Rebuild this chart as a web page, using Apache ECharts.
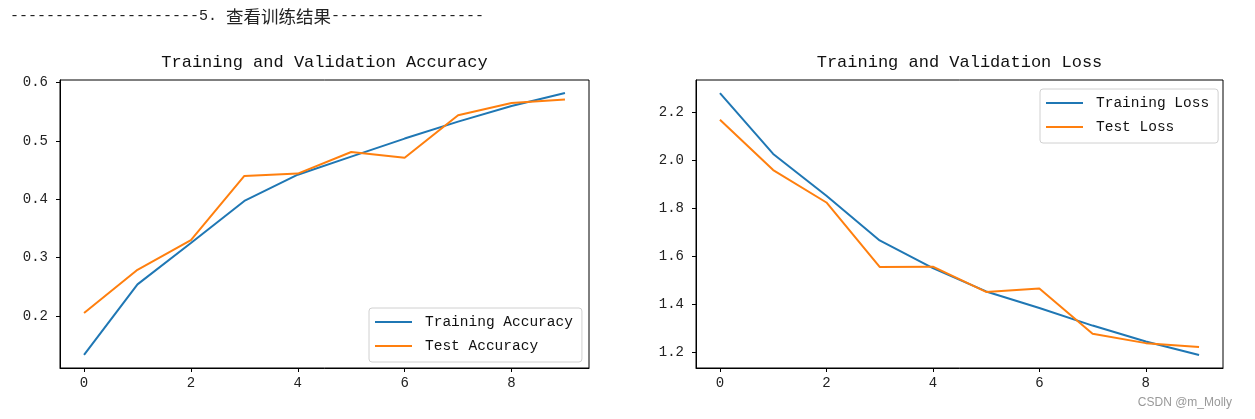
<!DOCTYPE html>
<html>
<head>
<meta charset="utf-8">
<script src="https://cdn.jsdelivr.net/npm/echarts@6/dist/echarts.min.js"></script>
<style>
html,body{margin:0;padding:0;background:#fff;}
#chart{width:1255px;height:419px;}
</style>
</head>
<body>
<div id="chart"></div>
<script>
var epochs = [0, 1, 2, 3, 4, 5, 6, 7, 8, 9];
var trainAcc = [0.133, 0.254, 0.325, 0.397, 0.442, 0.473, 0.504, 0.533, 0.560, 0.582];
var testAcc = [0.205, 0.279, 0.330, 0.440, 0.444, 0.481, 0.471, 0.544, 0.565, 0.571];
var trainLoss = [2.280, 2.027, 1.853, 1.667, 1.552, 1.455, 1.386, 1.313, 1.247, 1.191];
var testLoss = [2.169, 1.960, 1.825, 1.557, 1.558, 1.453, 1.467, 1.279, 1.240, 1.224];
var xTicks = [0, 2, 4, 6, 8];
var accTicks = [0.2, 0.3, 0.4, 0.5, 0.6];
var lossTicks = [1.2, 1.4, 1.6, 1.8, 2.0, 2.2];
var accTitle = 'Training and Validation Accuracy';
var lossTitle = 'Training and Validation Loss';
var accNames = ['Training Accuracy', 'Test Accuracy'];
var lossNames = ['Training Loss', 'Test Loss'];
var header = ['---------------------5. ', '查看训练结果', '-----------------'];
var watermark = 'CSDN @m_Molly';

var MONO = '"Liberation Mono", "DejaVu Sans Mono", monospace';
var BLUE = '#1f77b4', ORANGE = '#ff7f0e';

function pairs(xs, ys) { return xs.map(function (x, i) { return [x, ys[i]]; }); }
function range(a, b) {
  var lo = Math.min.apply(null, a.concat(b)), hi = Math.max.apply(null, a.concat(b));
  var m = (hi - lo) * 0.05;
  return [lo - m, hi + m];
}
var xm = (epochs[epochs.length - 1] - epochs[0]) * 0.05;
var accR = range(trainAcc, testAcc);
var lossR = range(trainLoss, testLoss);

function xAxis(gi) {
  return {
    type: 'value', gridIndex: gi, min: epochs[0] - xm, max: epochs[epochs.length - 1] + xm,
    splitLine: { show: false },
    axisLine: { show: true, onZero: false, lineStyle: { color: '#000', width: 1 } },
    axisTick: { show: true, length: 4, customValues: xTicks, lineStyle: { color: '#000' } },
    axisLabel: { customValues: xTicks, margin: 8, color: '#222', fontFamily: MONO, fontSize: 14,
      formatter: function (v) { return String(v); } }
  };
}
function yAxis(gi, r, ticks) {
  return {
    type: 'value', gridIndex: gi, min: r[0], max: r[1],
    splitLine: { show: false },
    axisLine: { show: true, onZero: false, lineStyle: { color: '#000', width: 1 } },
    axisTick: { show: true, length: 4, customValues: ticks, lineStyle: { color: '#000' } },
    axisLabel: { customValues: ticks, margin: 12, color: '#222', fontFamily: MONO, fontSize: 14,
      formatter: function (v) { return v.toFixed(1); } }
  };
}
function line(name, gi, ys, color) {
  return {
    type: 'line', name: name, xAxisIndex: gi, yAxisIndex: gi, data: pairs(epochs, ys),
    showSymbol: false, symbol: 'none', lineStyle: { color: color, width: 2 }, itemStyle: { color: color }
  };
}
function legend(names, left, top) {
  return {
    data: names, orient: 'vertical', left: left, top: top,
    padding: [6, 9, 8, 6], itemGap: 8, itemWidth: 37, itemHeight: 2, icon: 'rect',
    backgroundColor: '#fff', borderColor: '#d0d0d0', borderWidth: 1, borderRadius: 3,
    textStyle: { fontFamily: MONO, fontSize: 14.5, color: '#111', lineHeight: 16, padding: [0, 0, 0, 8] }
  };
}

var chart = echarts.init(document.getElementById('chart'));
chart.setOption({
  animation: false,
  backgroundColor: '#fff',
  grid: [
    { left: 60, top: 80, width: 529, height: 288, show: true, borderColor: '#000', borderWidth: 1, backgroundColor: 'transparent' },
    { left: 696, top: 80, width: 527, height: 288, show: true, borderColor: '#000', borderWidth: 1, backgroundColor: 'transparent' }
  ],
  xAxis: [xAxis(0), xAxis(1)],
  yAxis: [yAxis(0, accR, accTicks), yAxis(1, lossR, lossTicks)],
  legend: [legend(accNames, 369, 308), legend(lossNames, 1040, 89)],
  series: [
    line(accNames[0], 0, trainAcc, BLUE),
    line(accNames[1], 0, testAcc, ORANGE),
    line(lossNames[0], 1, trainLoss, BLUE),
    line(lossNames[1], 1, testLoss, ORANGE)
  ],
  graphic: [
    { type: 'text', x: 324.5, y: 62, style: { text: accTitle, textAlign: 'center', textVerticalAlign: 'middle', font: '17px ' + MONO, fill: '#111' } },
    { type: 'text', x: 959.5, y: 62, style: { text: lossTitle, textAlign: 'center', textVerticalAlign: 'middle', font: '17px ' + MONO, fill: '#111' } },
    { type: 'text', x: 10, y: 16, style: {
        text: '{a|' + header[0] + '}{b|' + header[1] + '}{a|' + header[2] + '}',
        textVerticalAlign: 'middle',
        rich: {
          a: { fontFamily: MONO, fontSize: 15, fill: '#222', color: '#222' },
          b: { fontFamily: '"Noto Sans CJK SC", sans-serif', fontSize: 17.5, fill: '#222', color: '#222' }
        }
    } },
    { type: 'text', x: 1232, y: 403, style: { text: watermark, textAlign: 'right', textVerticalAlign: 'middle', font: '12px "Liberation Sans", Arial, sans-serif', fill: '#999' } }
  ]
});
</script>
</body>
</html>
